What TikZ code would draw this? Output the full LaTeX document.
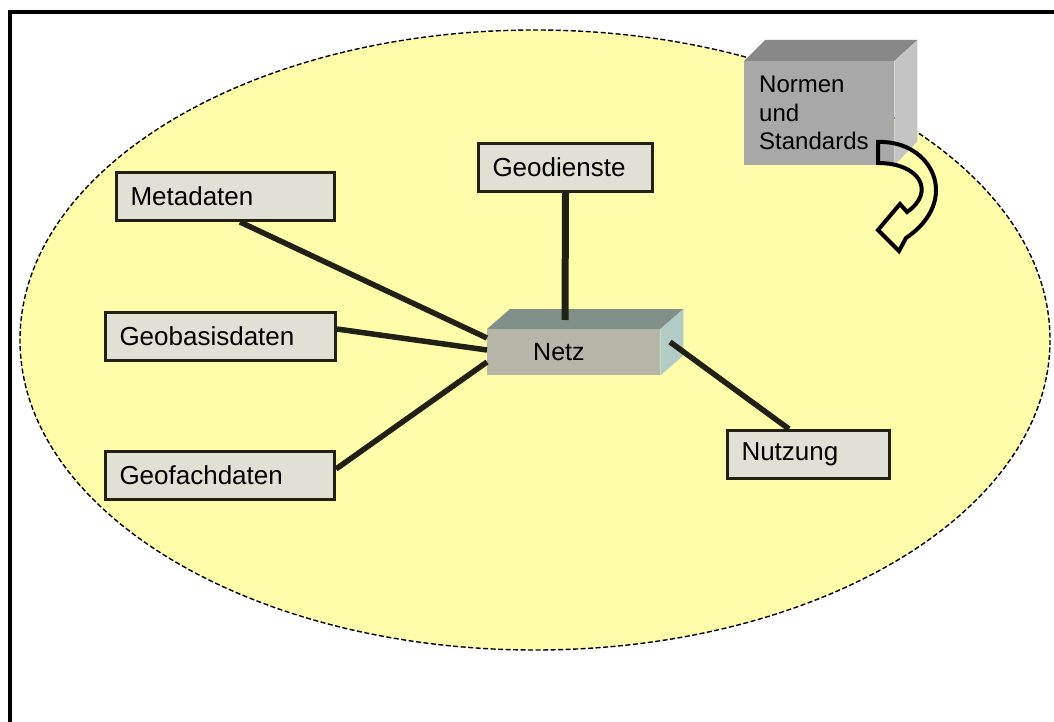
\documentclass[tikz,border=0pt]{standalone}
\usepackage{fontspec}
\setmainfont{Liberation Sans}
\usetikzlibrary{calc}
\definecolor{ellfill}{RGB}{255,253,170}
\definecolor{boxfill}{RGB}{224,224,212}
\definecolor{boxline}{RGB}{32,32,20}
\definecolor{netzfront}{RGB}{182,182,168}
\definecolor{netztop}{RGB}{128,144,136}
\definecolor{netzside}{RGB}{176,204,196}
\definecolor{normfront}{RGB}{168,168,168}
\definecolor{normtop}{RGB}{136,136,136}
\definecolor{normside}{RGB}{196,196,196}
\begin{document}
\begin{tikzpicture}[x=1pt,y=-1pt,
  lbl/.style={draw=boxline, line width=3pt, fill=boxfill, minimum height=48pt,
    inner xsep=14pt, align=left, anchor=north west, font=\fontsize{26}{30}\selectfont},
  conn/.style={line width=5.5pt, draw=boxline},
  frameline/.style={line width=4pt, draw=black}]
\useasboundingbox (0,0) rectangle (1054,722);
% ellipse
\draw[fill=ellfill, line width=1.4pt, dash pattern=on 5pt off 2.5pt] (535,340) ellipse [x radius=515, y radius=310];
% frame
\draw[frameline] (10,722) -- (10,12) -- (1054,12);
% boxes
\node[lbl, text width=190pt] (meta) at (115,171) {Metadaten};
\node[lbl, text width=146pt] (geod) at (477,142) {Geodienste};
\node[lbl, text width=202pt] (geob) at (104,311) {Geobasisdaten};
\node[lbl, text width=201pt] (geof) at (104,450) {Geofachdaten};
\node[lbl, text width=134pt] (nutz) at (726,429) {Nutzung};
% Netz 3D box
\node[fill=netzfront, minimum width=173pt, minimum height=46pt, inner ysep=0pt, inner xsep=46pt,
  text width=81pt, align=left, anchor=north west,
  font=\fontsize{25}{28}\selectfont] (netz) at (487,329) {Netz};
\fill[netztop] (netz.north west) -- ++(23,-20) -- ($(netz.north east)+(23,-20)$) -- (netz.north east) -- cycle;
\fill[netzside] (netz.north east) -- ++(23,-20) -- ($(netz.south east)+(23,-20)$) -- (netz.south east) -- cycle;
\coordinate (netzTopPt) at (565,320);
\coordinate (netzSidePt) at (670,342);
% connectors
\draw[conn] ([xshift=125pt]meta.south west) -- ([yshift=-9pt]netz.north west);
\draw[conn] ([yshift=-18pt]geob.north east) -- ([yshift=-21pt]netz.north west);
\draw[conn] ([yshift=-19pt]geof.north east) -- ([yshift=-33pt]netz.north west);
\draw[line width=7pt, draw=boxline] (geod.south) -- (netzTopPt);
\draw[conn] (netzSidePt) -- ([xshift=63pt]nutz.north west);
% Normen und Standards 3D box
\node[fill=normfront, minimum width=145pt, minimum height=104pt, text width=120pt, inner xsep=15pt,
  align=left, anchor=north west, font=\fontsize{24}{28.5}\selectfont] (norm) at (744,61) {Normen\\und\\Standards};
\fill[normtop] (norm.north west) -- ++(21,-21) -- ($(norm.north east)+(23,-21)$) -- (norm.north east) -- cycle;
\fill[normside] (norm.north east) -- ++(23,-21) -- ($(norm.south east)+(23,-24)$) -- (norm.south east) -- cycle;
% curved block arrow
\draw[line width=4pt, line join=miter] (878,142) .. controls (932,140) and (962,200) .. (906,238)
  -- (899,251) -- (878,230) -- (900,204) -- (907,212)
  .. controls (936,192) and (920,163) .. (878,163) -- cycle;
\end{tikzpicture}
\end{document}
